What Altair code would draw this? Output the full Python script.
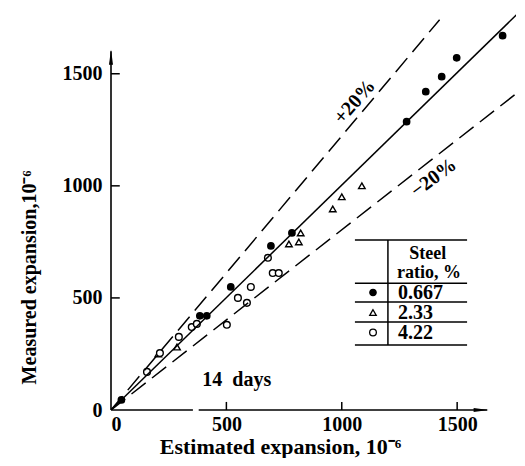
import altair as alt
import pandas as pd

# ---------------- data ----------------
ratio_labels = ["0.667", "2.33", "4.22"]

est_0667 = [45, 385, 415, 519, 693, 784, 1281, 1364, 1433, 1498, 1697]
meas_0667 = [45, 420, 420, 549, 732, 790, 1286, 1420, 1487, 1571, 1670]

est_233 = [205, 286, 771, 814, 822, 961, 1000, 1087]
meas_233 = [250, 281, 741, 750, 790, 897, 951, 1000]

est_422 = [156, 212, 294, 350, 372, 502, 550, 589, 606, 680, 701, 727]
meas_422 = [170, 254, 326, 370, 384, 380, 500, 478, 549, 679, 611, 611]

tick_values = [0, 500, 1000, 1500]

# reference lines (end points)
solid_end = (1771, 1777)
plus_end = (1424, 1741)
minus_end = (1749, 1406)

# ---------------- layout constants ----------------
FONT = "Liberation Serif"
X_DOM = [0, 1755]
Y_DOM = [0, 1780]
W, H = 405, 399

rows = []
for lab, xs_, ys_ in zip(ratio_labels, [est_0667, est_233, est_422],
                         [meas_0667, meas_233, meas_422]):
    for a, b in zip(xs_, ys_):
        rows.append({"est": a, "meas": b, "ratio": lab})
points = pd.DataFrame(rows)

xsc = alt.Scale(domain=X_DOM, nice=False, zero=False)
ysc = alt.Scale(domain=Y_DOM, nice=False, zero=False)

legend = alt.Legend(orient="none", legendX=252, legendY=271.5, title=None,
                    labelFont=FONT, labelFontSize=20, labelFontWeight="bold",
                    labelColor="black", labelOffset=15, rowPadding=0, padding=0,
                    symbolStrokeWidth=1.3)

pts = alt.Chart(points).mark_point(filled=True, strokeWidth=1.4,
                                   opacity=1).encode(
    x=alt.X("est:Q", scale=xsc, axis=alt.Axis(
        values=tick_values, format="d", title="Estimated expansion, 10⁻⁶", domain=False,
        ticks=False, tickSize=0, grid=False, labelFont=FONT, labelFontSize=20,
        labelFontWeight="bold", labelColor="black", labelPadding=4,
        titleFont=FONT, titleFontSize=22, titleFontWeight="bold",
        titleColor="black", titleX=169, titleY=43, titleBaseline="alphabetic",
        titleAlign="center")),
    y=alt.Y("meas:Q", scale=ysc, axis=alt.Axis(
        values=tick_values, format="d", title="Measured expansion,10⁻⁶", domain=False,
        ticks=False, tickSize=0, grid=False, labelFont=FONT, labelFontSize=20,
        labelFontWeight="bold", labelColor="black", labelPadding=9,
        titleFont=FONT, titleFontSize=20, titleFontWeight="bold",
        titleColor="black", titleAngle=270, titleX=-76, titleY=266,
        titleBaseline="alphabetic", titleAlign="center")),
    shape=alt.Shape("ratio:N", scale=alt.Scale(domain=ratio_labels,
                    range=["circle", "triangle-up", "circle"]), legend=legend),
    fill=alt.Fill("ratio:N", scale=alt.Scale(domain=ratio_labels,
                  range=["black", "white", "white"]), legend=legend),
    stroke=alt.Stroke("ratio:N", scale=alt.Scale(domain=ratio_labels,
                      range=["black", "black", "black"]), legend=legend),
    size=alt.Size("ratio:N", scale=alt.Scale(domain=ratio_labels,
                  range=[40, 45, 55]), legend=legend),
)

# reference lines
solid_df = pd.DataFrame({"est": [0], "meas": [0], "est2": [solid_end[0]], "meas2": [solid_end[1]]})
dash_df = pd.DataFrame({"est": [0, 0], "meas": [0, 0],
                        "est2": [plus_end[0], minus_end[0]],
                        "meas2": [plus_end[1], minus_end[1]]})
solid = alt.Chart(solid_df).mark_rule(color="black", strokeWidth=1.5, clip=True).encode(
    x="est:Q", y="meas:Q", x2="est2:Q", y2="meas2:Q")
dashed = alt.Chart(dash_df).mark_rule(color="black", strokeWidth=1.5,
                                      strokeDash=[18, 8], clip=True).encode(
    x="est:Q", y="meas:Q", x2="est2:Q", y2="meas2:Q")

# axes lines with arrows (x axis has a small break as in the picture)
axis_df = pd.DataFrame({"est": [0, 0, 380], "meas": [0, 0, 0],
                        "est2": [0, 355, 1630], "meas2": [1600, 0, 0]})
axes = alt.Chart(axis_df).mark_rule(color="black", strokeWidth=1.6).encode(
    x="est:Q", y="meas:Q", x2="est2:Q", y2="meas2:Q")
arr_up = alt.Chart(pd.DataFrame({"est": [0], "meas": [1574]})).mark_point(
    shape="M0,-1L0.27,1L-0.27,1Z", filled=True, fill="black", size=225, opacity=1).encode(
    x="est:Q", y="meas:Q")
arr_right = alt.Chart(pd.DataFrame({"est": [1604], "meas": [0]})).mark_point(
    shape="M1,0L-1,0.27L-1,-0.27Z", filled=True, fill="black", size=225, opacity=1).encode(
    x="est:Q", y="meas:Q")

# inward ticks
tv = tick_values[1:]
yt = alt.Chart(pd.DataFrame({"est": [0] * 3, "meas": tv, "est2": [38] * 3, "meas2": tv})).mark_rule(
    color="black", strokeWidth=1.5).encode(x="est:Q", y="meas:Q", x2="est2:Q", y2="meas2:Q")
xt = alt.Chart(pd.DataFrame({"est": tv, "meas": [0] * 3, "est2": tv, "meas2": [36] * 3})).mark_rule(
    color="black", strokeWidth=1.5).encode(x="est:Q", y="meas:Q", x2="est2:Q", y2="meas2:Q")

# annotations
def label(text, x, y, angle=0, size=20):
    return alt.Chart(pd.DataFrame({"est": [x], "meas": [y], "t": [text]})).mark_text(
        font=FONT, fontSize=size, fontWeight="bold", color="black", angle=angle,
        align="center", baseline="middle").encode(x="est:Q", y="meas:Q", text="t:N")

plus_lab = label("+20%", 1056, 1375, 311)
minus_lab = label("−20%", 1398, 1036, 323)
days_lab = label("14\u00a0\u00a0days", 545, 134)
steel_lab = label("Steel", 1373, 694, size=18)
ratio_lab = label("ratio, %", 1378, 612, size=18)

# legend table lines
tbl_y = [758, 566, 482, 393, 290]
tbl_df = pd.DataFrame({"est": [1057] * 5 + [1200], "meas": tbl_y + [758],
                       "est2": [1543] * 5 + [1200], "meas2": tbl_y + [290]})
table = alt.Chart(tbl_df).mark_rule(color="black", strokeWidth=1.5).encode(
    x="est:Q", y="meas:Q", x2="est2:Q", y2="meas2:Q")

chart = alt.layer(
    pts, axes, arr_up, arr_right, yt, xt, solid, dashed, table,
    plus_lab, minus_lab, days_lab, steel_lab, ratio_lab,
).properties(
    width=W, height=H,
    autosize=alt.AutoSizeParams(type="none"),
    padding={"left": 103, "top": 3, "right": 1, "bottom": 48},
    background="white",
).configure_view(stroke=None)

chart.save("out.html", embed_options={"renderer": "svg", "actions": False})
